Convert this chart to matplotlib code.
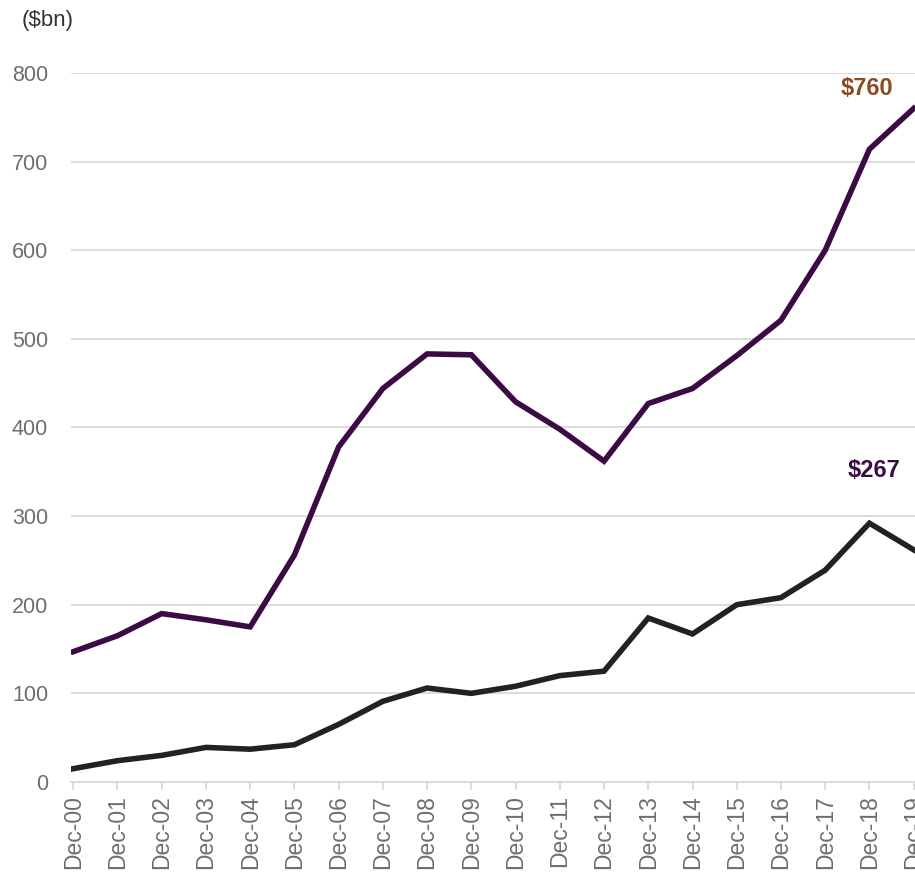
import matplotlib.pyplot as plt

plt.rcParams['font.family'] = ['Liberation Sans', 'DejaVu Sans']

# Data
labels = ['Dec-%02d' % i for i in range(20)]
upper = [147, 165, 190, 183, 175, 256, 378, 444, 483, 482,
         429, 398, 362, 427, 444, 481, 521, 600, 714, 760]
lower = [15, 24, 30, 39, 37, 42, 65, 91, 106, 100,
         108, 120, 125, 185, 167, 200, 208, 239, 292, 262]

PURPLE = '#3c0a45'
DARK = '#222222'
GREY = '#6e6e6e'
GRID = '#d9d9d9'

fig = plt.figure(figsize=(9.15, 8.74), dpi=100)
ax = fig.add_axes([0.0776, 0.1053, 0.9224, 0.8112])

x = range(len(labels))
ax.plot(x, upper, color=PURPLE, lw=4.0, solid_joinstyle='miter')
ax.plot(x, lower, color=DARK, lw=4.0, solid_joinstyle='miter')

ax.set_xlim(-0.05, 19.03)
ax.set_ylim(0, 800)
ax.set_yticks(range(0, 801, 100))
ax.set_xticks(list(x))
ax.set_xticklabels(labels, rotation=90)

ax.grid(axis='y', color=GRID, lw=1.3)
ax.set_axisbelow(True)
for s in ['top', 'right', 'left']:
    ax.spines[s].set_visible(False)
ax.spines['bottom'].set_color(GRID)
ax.spines['bottom'].set_linewidth(1.3)
ax.tick_params(axis='y', length=0, labelsize=15.5, labelcolor=GREY, pad=16.5)
ax.tick_params(axis='x', length=5.5, color=GRID, width=1.3, labelsize=16.5,
               labelcolor=GREY, pad=4)

fig.text(0.024, 0.977, '($bn)', fontsize=16, color='#333333', va='center')

ax.text(17.35, 782, '$760', color='#8b4a22', fontsize=17, fontweight='bold',
        ha='left', va='center')
ax.text(17.5, 351, '$267', color=PURPLE, fontsize=17, fontweight='bold',
        ha='left', va='center')

fig.savefig('out.png', dpi=100)
